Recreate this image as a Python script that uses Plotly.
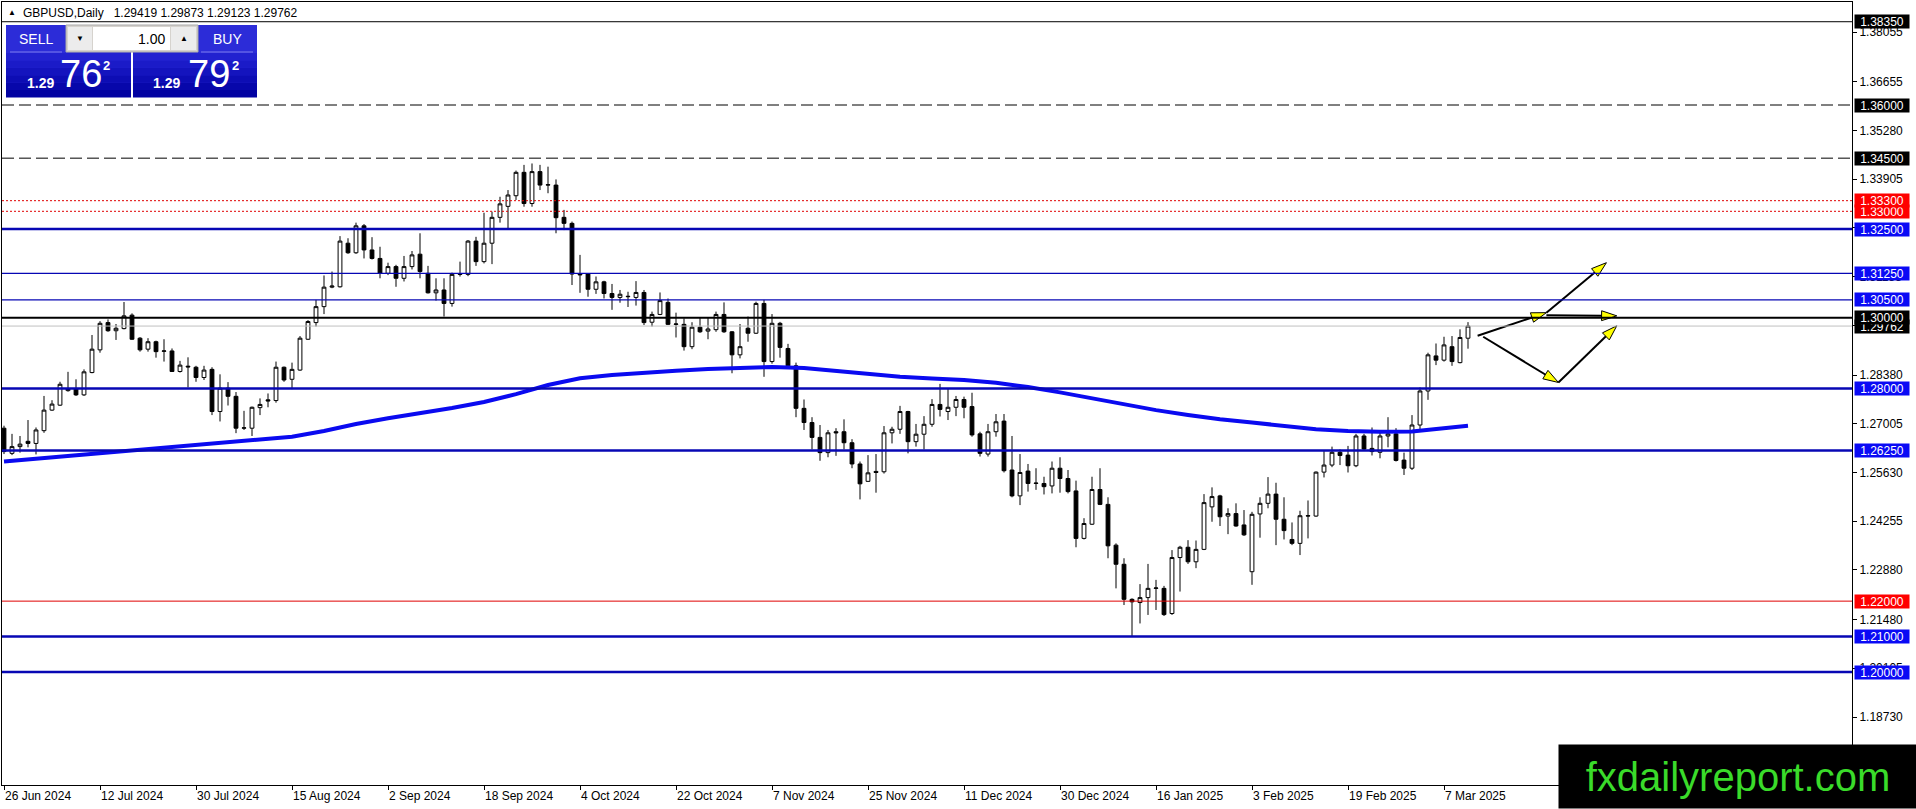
import pandas as pd
import plotly.graph_objects as go

# GBPUSD daily candles, 26 Jun 2024 .. 12 Mar 2025
OPEN = [
    1.2688, 1.2617, 1.2636, 1.2651, 1.2645, 1.2681, 1.2739, 1.2753, 1.2794, 1.2800,
    1.2782, 1.2845, 1.2909, 1.2986, 1.2963, 1.2969, 1.3007, 1.2942, 1.2911, 1.2932,
    1.2905, 1.2906, 1.2848, 1.2863, 1.2860, 1.2831, 1.2854, 1.2735, 1.2801, 1.2778,
    1.2688, 1.2688, 1.2746, 1.2768, 1.2766, 1.2860, 1.2826, 1.2852, 1.2939, 1.2986,
    1.3031, 1.3086, 1.3087, 1.3210, 1.3183, 1.3259, 1.3191, 1.3167, 1.3125, 1.3144,
    1.3111, 1.3144, 1.3179, 1.3125, 1.3070, 1.3078, 1.3040, 1.3122, 1.3122, 1.3216,
    1.3158, 1.3210, 1.3283, 1.3314, 1.3344, 1.3410, 1.3322, 1.3412, 1.3374, 1.3374,
    1.3283, 1.3266, 1.3123, 1.3123, 1.3080, 1.3101, 1.3068, 1.3057, 1.3059, 1.3057,
    1.3071, 1.2987, 1.3009, 1.3043, 1.2981, 1.2981, 1.2918, 1.2973, 1.2962, 1.2966,
    1.3009, 1.2960, 1.2895, 1.2970, 1.2956, 1.3040, 1.2876, 1.2984, 1.2913, 1.2864,
    1.2744, 1.2704, 1.2662, 1.2619, 1.2678, 1.2678, 1.2647, 1.2587, 1.2538, 1.2566,
    1.2565, 1.2675, 1.2685, 1.2735, 1.2650, 1.2671, 1.2699, 1.2755, 1.2735, 1.2747,
    1.2769, 1.2749, 1.2672, 1.2615, 1.2678, 1.2708, 1.2570, 1.2497, 1.2567, 1.2532,
    1.2532, 1.2525, 1.2575, 1.2546, 1.2511, 1.2377, 1.2417, 1.2515, 1.2473, 1.2358,
    1.2304, 1.2205, 1.2196, 1.2210, 1.2236, 1.2236, 1.2165, 1.2323, 1.2352, 1.2311,
    1.2346, 1.2466, 1.2497, 1.2440, 1.2447, 1.2415, 1.2283, 1.2446, 1.2476, 1.2502,
    1.2431, 1.2374, 1.2363, 1.2440, 1.2440, 1.2564, 1.2584, 1.2620, 1.2612, 1.2582,
    1.2666, 1.2631, 1.2620, 1.2666, 1.2672, 1.2598, 1.2575, 1.2697, 1.2793, 1.2892,
    1.2880, 1.2918, 1.2873, 1.29419,
]
HIGH = [
    1.2695, 1.2672, 1.2666, 1.2711, 1.2690, 1.2779, 1.2767, 1.2819, 1.2847, 1.2826,
    1.2854, 1.2951, 1.2990, 1.2995, 1.2982, 1.3044, 1.3012, 1.2945, 1.2942, 1.2935,
    1.2939, 1.2913, 1.2878, 1.2888, 1.2864, 1.2864, 1.2860, 1.2840, 1.2818, 1.2790,
    1.2737, 1.2749, 1.2772, 1.2786, 1.2876, 1.2862, 1.2873, 1.2948, 1.2993, 1.3050,
    1.3119, 1.3130, 1.3230, 1.3224, 1.3268, 1.3264, 1.3227, 1.3200, 1.3155, 1.3149,
    1.3174, 1.3188, 1.3238, 1.3146, 1.3111, 1.3111, 1.3127, 1.3158, 1.3219, 1.3228,
    1.3296, 1.3299, 1.3341, 1.3360, 1.3415, 1.3431, 1.3435, 1.3431, 1.3426, 1.3390,
    1.3304, 1.3271, 1.3177, 1.3125, 1.3116, 1.3104, 1.3095, 1.3078, 1.3073, 1.3103,
    1.3078, 1.3017, 1.3071, 1.3054, 1.3014, 1.2998, 1.2987, 1.3001, 1.3001, 1.3017,
    1.3043, 1.2962, 1.2982, 1.3003, 1.3045, 1.3050, 1.3010, 1.2988, 1.2926, 1.2873,
    1.2769, 1.2719, 1.2697, 1.2683, 1.2688, 1.2713, 1.2657, 1.2594, 1.2612, 1.2615,
    1.2694, 1.2692, 1.2751, 1.2737, 1.2700, 1.2722, 1.2770, 1.2813, 1.2800, 1.2779,
    1.2777, 1.2788, 1.2678, 1.2700, 1.2728, 1.2728, 1.2666, 1.2615, 1.2587, 1.2575,
    1.2551, 1.2594, 1.2606, 1.2570, 1.2540, 1.2434, 1.2551, 1.2575, 1.2493, 1.2363,
    1.2321, 1.2208, 1.2248, 1.2305, 1.2260, 1.2243, 1.2344, 1.2356, 1.2372, 1.2371,
    1.2502, 1.2521, 1.2500, 1.2462, 1.2476, 1.2457, 1.2452, 1.2493, 1.2550, 1.2534,
    1.2493, 1.2422, 1.2455, 1.2484, 1.2566, 1.2625, 1.2636, 1.2628, 1.2638, 1.2672,
    1.2672, 1.2690, 1.2678, 1.2719, 1.2688, 1.2619, 1.2725, 1.2803, 1.2901, 1.2927,
    1.2946, 1.2948, 1.2967, 1.29873,
]
LOW = [
    1.2615, 1.2612, 1.2619, 1.2634, 1.2614, 1.2675, 1.2737, 1.2751, 1.2791, 1.2779,
    1.2779, 1.2843, 1.2901, 1.2960, 1.2937, 1.2967, 1.2937, 1.2904, 1.2904, 1.2887,
    1.2876, 1.2848, 1.2845, 1.2803, 1.2819, 1.2824, 1.2725, 1.2707, 1.2752, 1.2674,
    1.2683, 1.2666, 1.2725, 1.2747, 1.2760, 1.2819, 1.2798, 1.2850, 1.2937, 1.2975,
    1.3010, 1.3083, 1.3085, 1.3180, 1.3180, 1.3167, 1.3164, 1.3111, 1.3120, 1.3087,
    1.3102, 1.3136, 1.3111, 1.3068, 1.3048, 1.3003, 1.3031, 1.3116, 1.3117, 1.3146,
    1.3153, 1.3151, 1.3268, 1.3249, 1.3332, 1.3313, 1.3313, 1.3360, 1.3351, 1.3238,
    1.3247, 1.3092, 1.3070, 1.3059, 1.3067, 1.3054, 1.3022, 1.3042, 1.3030, 1.3034,
    1.2979, 1.2975, 1.3007, 1.2979, 1.2944, 1.2907, 1.2911, 1.2957, 1.2939, 1.2960,
    1.2957, 1.2843, 1.2885, 1.2932, 1.2954, 1.2833, 1.2870, 1.2887, 1.2860, 1.2719,
    1.2683, 1.2628, 1.2596, 1.2606, 1.2610, 1.2628, 1.2575, 1.2487, 1.2537, 1.2506,
    1.2560, 1.2645, 1.2672, 1.2617, 1.2636, 1.2628, 1.2692, 1.2721, 1.2711, 1.2722,
    1.2716, 1.2664, 1.2608, 1.2608, 1.2664, 1.2563, 1.2493, 1.2471, 1.2509, 1.2514,
    1.2501, 1.2504, 1.2506, 1.2504, 1.2352, 1.2374, 1.2415, 1.2471, 1.2321, 1.2236,
    1.2189, 1.2100, 1.2137, 1.2161, 1.2175, 1.2158, 1.2161, 1.2227, 1.2305, 1.2293,
    1.2344, 1.2424, 1.2412, 1.2389, 1.2410, 1.2384, 1.2246, 1.2379, 1.2462, 1.2358,
    1.2374, 1.2358, 1.2330, 1.2377, 1.2438, 1.2549, 1.2578, 1.2584, 1.2563, 1.2578,
    1.2625, 1.2611, 1.2603, 1.2634, 1.2594, 1.2556, 1.2570, 1.2683, 1.2768, 1.2866,
    1.2876, 1.2864, 1.2871, 1.29123,
]
CLOSE = [
    1.2622, 1.2636, 1.2643, 1.2645, 1.2683, 1.2739, 1.2756, 1.2812, 1.2800, 1.2782,
    1.2847, 1.2911, 1.2984, 1.2963, 1.2970, 1.3005, 1.2939, 1.2909, 1.2932, 1.2904,
    1.2906, 1.2848, 1.2866, 1.2861, 1.2831, 1.2852, 1.2735, 1.2801, 1.2778, 1.2688,
    1.2689, 1.2747, 1.2755, 1.2765, 1.2860, 1.2824, 1.2854, 1.2942, 1.2989, 1.3031,
    1.3086, 1.3089, 1.3216, 1.3183, 1.3259, 1.3191, 1.3167, 1.3125, 1.3144, 1.3111,
    1.3144, 1.3177, 1.3130, 1.3070, 1.3078, 1.3040, 1.3122, 1.3123, 1.3216, 1.3158,
    1.3210, 1.3283, 1.3321, 1.3346, 1.3410, 1.3322, 1.3412, 1.3374, 1.3375, 1.3282,
    1.3266, 1.3123, 1.3121, 1.3080, 1.3101, 1.3068, 1.3057, 1.3066, 1.3060, 1.3071,
    1.2986, 1.3009, 1.3048, 1.2981, 1.2982, 1.2918, 1.2973, 1.2960, 1.2968, 1.3009,
    1.2960, 1.2895, 1.2918, 1.2956, 1.3040, 1.2876, 1.2984, 1.2916, 1.2864, 1.2744,
    1.2704, 1.2662, 1.2619, 1.2675, 1.2675, 1.2647, 1.2587, 1.2531, 1.2562, 1.2563,
    1.2675, 1.2685, 1.2735, 1.2650, 1.2671, 1.2699, 1.2755, 1.2741, 1.2747, 1.2769,
    1.2747, 1.2669, 1.2617, 1.2678, 1.2706, 1.2568, 1.2497, 1.2563, 1.2532, 1.2533,
    1.2523, 1.2575, 1.2546, 1.2509, 1.2377, 1.2419, 1.2515, 1.2473, 1.2356, 1.2304,
    1.2205, 1.2198, 1.2210, 1.2236, 1.2237, 1.2162, 1.2323, 1.2352, 1.2311, 1.2346,
    1.2478, 1.2495, 1.2438, 1.2447, 1.2412, 1.2387, 1.2445, 1.2476, 1.2502, 1.2431,
    1.2399, 1.2363, 1.2441, 1.2441, 1.2564, 1.2584, 1.2620, 1.2611, 1.2582, 1.2666,
    1.2629, 1.2622, 1.2666, 1.2672, 1.2597, 1.2575, 1.2697, 1.2793, 1.2895, 1.2880,
    1.2923, 1.2876, 1.2944, 1.29762,
]

# blue moving average, read every 4th bar (+ last bar)
MA_BARS = list(range(0, 184, 4)) + [183]
MA_VALUES = [
    1.2594, 1.2602, 1.2610, 1.2618, 1.2626, 1.2634, 1.2642, 1.2650, 1.2657, 1.2664,
    1.2680, 1.2700, 1.2716, 1.2730, 1.2745, 1.2762, 1.2784, 1.2810, 1.2829, 1.2838,
    1.2845, 1.2850, 1.2855, 1.2857, 1.2861, 1.2858, 1.2850, 1.2841, 1.2833, 1.2828,
    1.2824, 1.2816, 1.2804, 1.2789, 1.2772, 1.2755, 1.2739, 1.2725, 1.2713, 1.2704,
    1.2694, 1.2685, 1.2680, 1.2678, 1.2679, 1.2688, 1.2695,
]

DATE_LABELS = [
    "26 Jun 2024", "12 Jul 2024", "30 Jul 2024", "15 Aug 2024", "2 Sep 2024",
    "18 Sep 2024", "4 Oct 2024", "22 Oct 2024", "7 Nov 2024", "25 Nov 2024",
    "11 Dec 2024", "30 Dec 2024", "16 Jan 2025", "3 Feb 2025", "19 Feb 2025",
    "7 Mar 2025",
]
LABEL_STEP = 12  # bars between date labels

Y_TICKS = [1.38055, 1.36655, 1.35280, 1.33905, 1.32530, 1.31155, 1.29780, 1.28380,
           1.27005, 1.25630, 1.24255, 1.22880, 1.21480, 1.20105, 1.18730]

# horizontal levels drawn on the chart
LEVELS = [1.38350, 1.36000, 1.34500, 1.33300, 1.33000, 1.32500, 1.31250, 1.30500,
          1.30000, 1.28000, 1.26250, 1.22000, 1.21000, 1.20000]
LEVEL_KINDS = ["black", "dash", "dash", "dotred", "dotred", "blue2", "blue1", "blue1",
               "black2", "blue2", "blue2", "red1", "blue2", "blue2"]
BID = 1.29762

# projection arrows: (bar, price) -> (bar, price)
ARROWS = [
    ((184.2, 1.2949), (192.8, 1.3014)),
    ((192.8, 1.3014), (200.3, 1.3155)),
    ((192.8, 1.3007), (201.6, 1.3005)),
    ((184.9, 1.2946), (194.3, 1.2817)),
    ((194.3, 1.2817), (201.6, 1.2977)),
]

STYLE = {
    "black":  dict(color="#000000", width=1, dash="solid", box="#000000"),
    "dash":   dict(color="#000000", width=1, dash="12px,5px", box="#000000"),
    "dotred": dict(color="#E00000", width=1, dash="2px,2px", box="#FF0000"),
    "blue2":  dict(color="#0707B4", width=2.5, dash="solid", box="#0A0AF5"),
    "blue1":  dict(color="#0707B4", width=1.3, dash="solid", box="#0A0AF5"),
    "black2": dict(color="#000000", width=2, dash="solid", box="#000000"),
    "red1":   dict(color="#E00000", width=1, dash="solid", box="#FF0000"),
}

FONT = "Liberation Sans, Arial, sans-serif"
W, H = 1916, 809
L, R, T, B = 2, 1852, 2, 785          # plot area in pixels
PX_PER_BAR = 8
PX_PER_UNIT = 3543.75                  # price scale
Y0_PRICE, Y0_PX = 1.36, 105


def px(x):
    return (x - L) / (R - L)


def py(y):
    return (B - y) / (B - T)


dates = pd.bdate_range("2024-06-26", "2025-03-12")
dates = dates.drop(pd.to_datetime(["2024-12-25", "2025-01-01"]))
bars = list(range(len(OPEN)))

fig = go.Figure()
fig.add_trace(go.Candlestick(
    x=bars, open=OPEN, high=HIGH, low=LOW, close=CLOSE,
    text=[d.strftime("%d %b %Y") for d in dates],
    increasing=dict(line=dict(color="black", width=1), fillcolor="white"),
    decreasing=dict(line=dict(color="black", width=1), fillcolor="black"),
    whiskerwidth=0, name="GBPUSD",
))
fig.add_trace(go.Scatter(x=MA_BARS, y=MA_VALUES, mode="lines",
                         line=dict(color="#0A0AF0", width=4), hoverinfo="skip"))

for (x0, y0), (x1, y1) in ARROWS:
    fig.add_trace(go.Scatter(
        x=[x0, x1], y=[y0, y1], mode="lines+markers",
        line=dict(color="black", width=2),
        marker=dict(symbol="arrow", size=16, angleref="previous", color="#FFFF00",
                    line=dict(color="black", width=1)),
        hoverinfo="skip",
    ))

shapes = []
for lvl, kind in zip(LEVELS, LEVEL_KINDS):
    st = STYLE[kind]
    shapes.append(dict(type="line", xref="paper", x0=0, x1=1, yref="y", y0=lvl, y1=lvl,
                       line=dict(color=st["color"], width=st["width"], dash=st["dash"])))
shapes.append(dict(type="line", xref="paper", x0=0, x1=1, yref="y", y0=BID, y1=BID,
                   line=dict(color="#C0C0C0", width=1)))

# one-click trading panel (pixel boxes)
def rect(x0, y0, x1, y1, fill, line=None):
    return dict(type="rect", xref="paper", yref="paper",
                x0=px(x0), x1=px(x1), y0=py(y1), y1=py(y0),
                fillcolor=fill, line=dict(width=1 if line else 0, color=line or fill))


for bx0, bx1 in [(6, 131), (133, 257)]:
    shapes.append(rect(bx0, 25, bx1, 97, "#2C2CD8"))
    bands = ["#2222D0", "#1B1BC8", "#1414BE", "#0D0DB4", "#0707AA", "#0202A2"]
    for k, c in enumerate(bands):
        shapes.append(rect(bx0, 53 + k * 7.4, bx1, 53 + (k + 1) * 7.4, c))
shapes.append(dict(type="line", xref="paper", yref="paper", x0=px(10), x1=px(62),
                   y0=py(52), y1=py(52), line=dict(color="#7C7CEE", width=1)))
shapes.append(dict(type="line", xref="paper", yref="paper", x0=px(201), x1=px(253),
                   y0=py(52), y1=py(52), line=dict(color="#7C7CEE", width=1)))
shapes.append(rect(66, 25, 198, 52, "#D6D3CE", "#A8A8A8"))
shapes.append(rect(68, 27, 92, 50, "#ECECEC"))
shapes.append(rect(93, 27, 170, 50, "#FFFFFF"))
shapes.append(rect(171, 27, 196, 50, "#ECECEC"))

ann = []


def text(x, y, s, size, color="white", anchor="left", bold=False, **kw):
    ann.append(dict(xref="paper", yref="paper", x=px(x), y=py(y), text=s,
                    showarrow=False, xanchor=anchor, yanchor="middle",
                    font=dict(family=FONT, size=size, color=color,
                              weight="bold" if bold else "normal"), **kw))


text(6, 13, "▲", 8, "black")
text(21, 13, "GBPUSD,Daily\u00a0\u00a0 1.29419 1.29873 1.29123 1.29762", 12, "black")
text(36, 39, "SELL", 14, anchor="center")
text(227, 39, "BUY", 14, anchor="center")
text(167, 39, "1.00", 14, "black", anchor="right")
text(80, 39, "▼", 8, "black", anchor="center")
text(184, 39, "▲", 8, "black", anchor="center")
for x_small, x_big, x_sup, big in [(25, 58, 101, "76"), (151, 186, 230, "79")]:
    text(x_small, 83, "1.29", 14, bold=True)
    text(x_big, 74, big, 38)
    text(x_sup, 66, "2", 13, bold=True)

# price labels on the right axis
labels = [(lvl, STYLE[k]["box"]) for lvl, k in zip(LEVELS, LEVEL_KINDS)] + [(BID, "#000000")]
for lvl, col in sorted(labels):
    ann.append(dict(xref="paper", x=1, xanchor="left", xshift=2, yref="y", y=lvl,
                    yanchor="middle", text=f"{lvl:.5f}", showarrow=False,
                    bgcolor=col, width=54, height=13, borderpad=0,
                    font=dict(family=FONT, size=12, color="white")))

# watermark
ann.append(dict(xref="paper", yref="paper", x=px(1558), y=py(809), xanchor="left",
                yanchor="bottom", text="fxdailyreport.com", showarrow=False,
                bgcolor="black", width=358, height=63, borderpad=0,
                font=dict(family=FONT, size=40, color="#3ADB2A")))

y_lo = Y0_PRICE - (B - Y0_PX) / PX_PER_UNIT
y_hi = Y0_PRICE + (Y0_PX - T) / PX_PER_UNIT
x_lo = (L - 4) / PX_PER_BAR
x_hi = (R - 4) / PX_PER_BAR

fig.update_layout(
    width=W, height=H, margin=dict(l=L, r=W - R, t=T, b=H - B),
    paper_bgcolor="white", plot_bgcolor="white", showlegend=False,
    hovermode=False, boxgap=0.32, shapes=shapes, annotations=ann,
    font=dict(family=FONT, size=12, color="black"),
    xaxis=dict(range=[x_lo, x_hi], rangeslider=dict(visible=False),
               tickvals=[i * LABEL_STEP for i in range(len(DATE_LABELS))],
               ticktext=DATE_LABELS, ticks="outside", ticklen=4, tickcolor="black",
               ticklabelposition="outside right", showline=True, linecolor="black",
               linewidth=1, mirror=True, showgrid=False, zeroline=False,
               tickfont=dict(family=FONT, size=12, color="black")),
    yaxis=dict(range=[y_lo, y_hi], side="right", tickvals=Y_TICKS,
               ticktext=[f"{v:.5f}" for v in Y_TICKS], ticks="outside", ticklen=4,
               tickcolor="black", showline=True, linecolor="black", linewidth=1,
               mirror=True, showgrid=False, zeroline=False,
               tickfont=dict(family=FONT, size=12, color="black")),
)

fig.write_html("out.html", config={"displayModeBar": False},
               post_script="document.body.style.margin='0';document.body.style.overflow='hidden';")
